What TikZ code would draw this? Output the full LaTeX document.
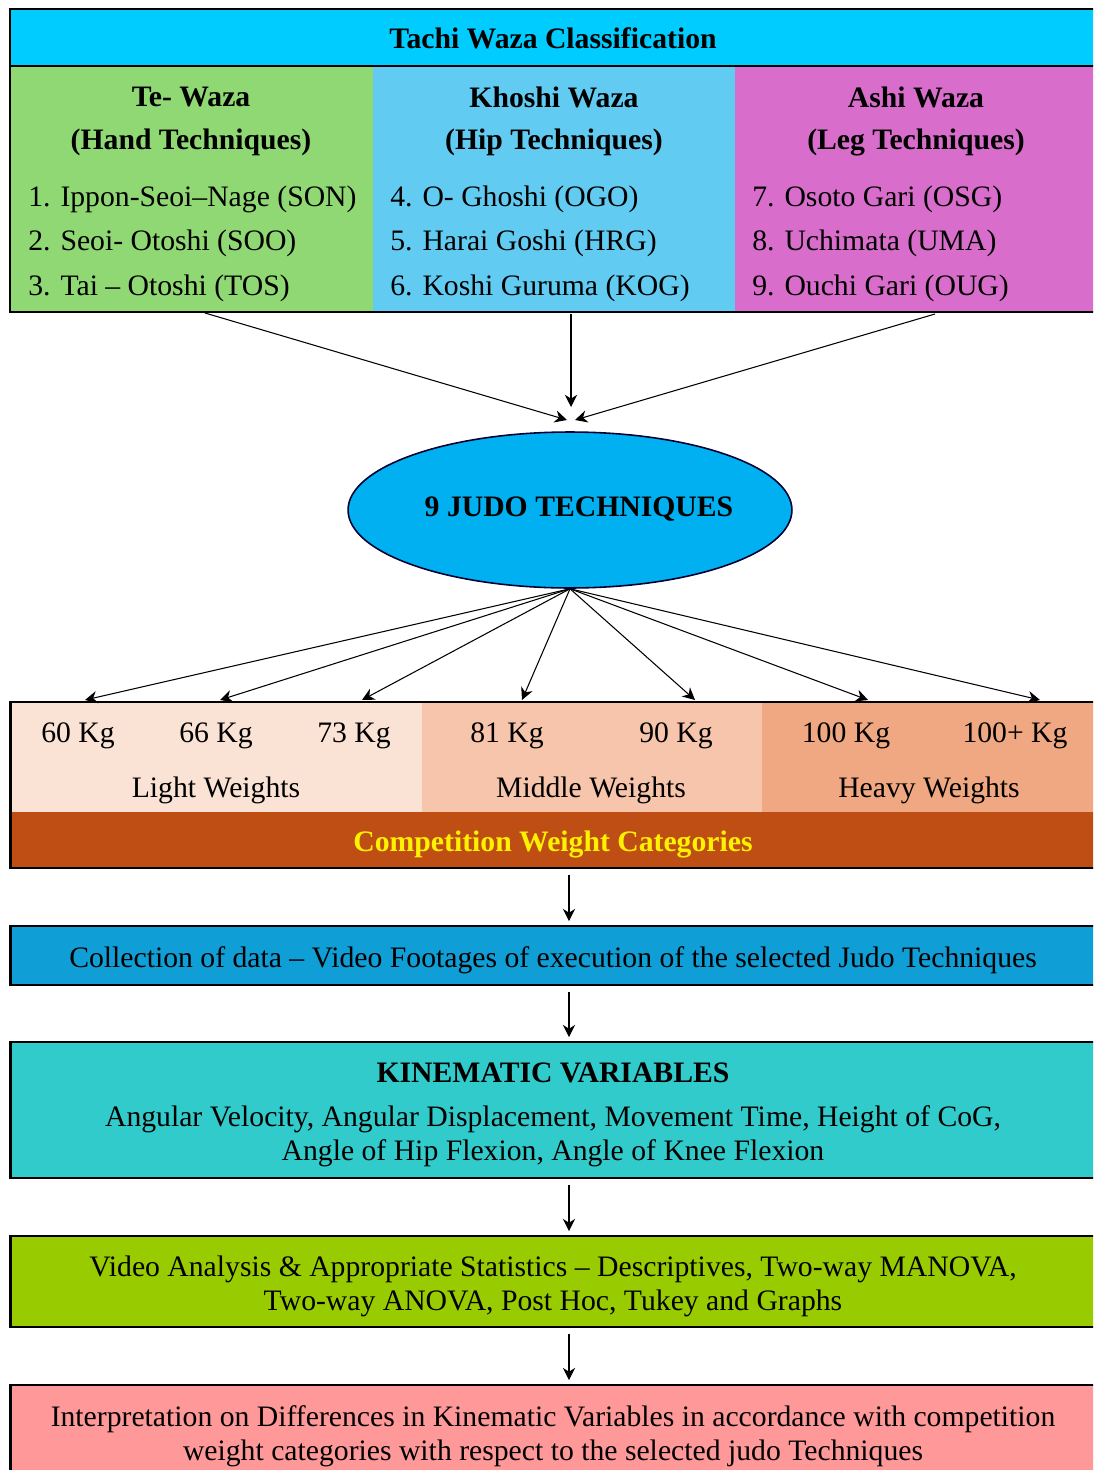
\documentclass[tikz,border=0pt]{standalone}
\usepackage{fontspec}
\setmainfont{Liberation Serif}
\usetikzlibrary{arrows.meta,shapes.geometric}

\definecolor{headblue}{HTML}{00CCFF}
\definecolor{handgreen}{HTML}{8FD873}
\definecolor{hipblue}{HTML}{61CBF2}
\definecolor{legpink}{HTML}{D86DCB}
\definecolor{judoblue}{HTML}{00B0F0}
\definecolor{lightw}{HTML}{FAE2D5}
\definecolor{middlew}{HTML}{F6C5AB}
\definecolor{heavyw}{HTML}{F0A882}
\definecolor{compbrown}{HTML}{BE4E14}
\definecolor{datablue}{HTML}{0F9ED5}
\definecolor{kinteal}{HTML}{31CBCB}
\definecolor{statgreen}{HTML}{99CC00}
\definecolor{interpink}{HTML}{FF9999}

\tikzset{
  arr/.style={-{Stealth[length=7pt,width=7pt]}, line width=0.6pt},
  frame/.style={draw=black, line width=1.6pt},
  flowbox/.style={frame, minimum width=21.8cm, inner sep=0pt},
  item/.style={anchor=west, inner sep=0pt}
}

\begin{document}
\begin{tikzpicture}[x=0.02cm, y=-0.02cm, font=\fontsize{16.9}{19.4}\selectfont]
\clip (0,0) rectangle (1093,1470);

% classification block
\fill[headblue] (10,9) rectangle (1100,66);
\fill[handgreen] (10,66) rectangle (373,312);
\fill[hipblue] (373,66) rectangle (735,312);
\fill[legpink] (735,66) rectangle (1100,312);
\draw[frame] (10,9) rectangle (1100,312);
\draw[frame] (10,66) -- (1100,66);

\node (tachi) at (553,38) {\textbf{Tachi Waza Classification}};

\node (tewaza) at (191,97) {\textbf{Te- Waza}};
\node (tehand) at (191,142) {\textbf{(Hand Techniques)}};
\node[item] (son) at (28,199) {1. Ippon-Seoi–Nage (SON)};
\node[item] (soo) at (28,243) {2. Seoi- Otoshi (SOO)};
\node[item] (tos) at (28,288) {3. Tai – Otoshi (TOS)};

\node (koshi) at (554,97) {\textbf{Khoshi Waza}};
\node (kohip) at (554,142) {\textbf{(Hip Techniques)}};
\node[item] (ogo) at (390,199) {4. O- Ghoshi (OGO)};
\node[item] (hrg) at (390,243) {5. Harai Goshi (HRG)};
\node[item] (kog) at (390,288) {6. Koshi Guruma (KOG)};

\node (ashi) at (916,97) {\textbf{Ashi Waza}};
\node (asleg) at (916,142) {\textbf{(Leg Techniques)}};
\node[item] (osg) at (752,199) {7. Osoto Gari (OSG)};
\node[item] (uma) at (752,243) {8. Uchimata (UMA)};
\node[item] (oug) at (752,288) {9. Ouchi Gari (OUG)};

% nine techniques
\node[ellipse, draw=black!80!blue, line width=0.9pt, fill=judoblue,
  minimum width=8.88cm, minimum height=3.12cm, inner sep=0pt] (judo) at (570,510) {};
\node (judotxt) at (579,509) {\textbf{9 JUDO TECHNIQUES}};

\coordinate (teout) at (205,313);
\coordinate (koout) at (571,314);
\coordinate (asout) at (935,314);
\coordinate (tein) at (567,420);
\coordinate (koin) at (571,407);
\coordinate (asin) at (575,420);
\draw[arr] (teout) -- (tein);
\draw[arr] (koout) -- (koin);
\draw[arr] (asout) -- (asin);

% weight categories
\fill[lightw] (10,702) rectangle (422,812);
\fill[middlew] (422,702) rectangle (762,812);
\fill[heavyw] (762,702) rectangle (1100,812);
\fill[compbrown] (10,812) rectangle (1100,868);
\node[flowbox, minimum height=3.32cm] (weights) at (555,785) {};
\node[text=yellow] (comp) at (553,844) {\textbf{Competition Weight Categories}};

\foreach \x/\w [count=\i] in {78/60 Kg, 216/66 Kg, 354/73 Kg, 507/81 Kg,
  676/90 Kg, 846/100 Kg, 1015/100+ Kg}
  \node (kg\i) at (\x,736) {\w};
\node (light) at (216,790) {Light Weights};
\node (middle) at (591,790) {Middle Weights};
\node (heavy) at (929,790) {Heavy Weights};

\foreach \x [count=\i] in {85,220,362,522,695,868,1040}
  \coordinate (tip\i) at (\x,700);
\foreach \i in {1,...,7}
  \draw[arr] (judo.south) -- (tip\i);

% flow boxes
\node[flowbox, fill=datablue, minimum height=1.18cm] (data) at (555,955.5) {};
\node (datatxt) at (553,960)
  {Collection of data – Video Footages of execution of the selected Judo Techniques};

\node[flowbox, fill=kinteal, minimum height=2.72cm] (kin) at (555,1110) {};
\node[align=center] (kintxt) at (553,1115)
  {\textbf{KINEMATIC VARIABLES}\\[5.7pt]
   Angular Velocity, Angular Displacement, Movement Time, Height of CoG,\\
   Angle of Hip Flexion, Angle of Knee Flexion};

\node[flowbox, fill=statgreen, minimum height=1.82cm] (stat) at (555,1281.5) {};
\node[align=center] (stattxt) at (553,1286)
  {Video Analysis \& Appropriate Statistics – Descriptives, Two-way MANOVA,\\
   Two-way ANOVA, Post Hoc, Tukey and Graphs};

\node[flowbox, fill=interpink, minimum height=1.9cm] (interp) at (555,1432.5) {};
\node[align=center] (interptxt) at (553,1436)
  {Interpretation on Differences in Kinematic Variables in accordance with competition\\
   weight categories with respect to the selected judo Techniques};

\coordinate (spine) at (569,0);
\foreach \u/\v in {weights/data, data/kin, kin/stat, stat/interp}
  \draw[arr, shorten <=3pt, shorten >=2pt] (\u.south -| spine) -- (\v.north -| spine);
\end{tikzpicture}
\end{document}
